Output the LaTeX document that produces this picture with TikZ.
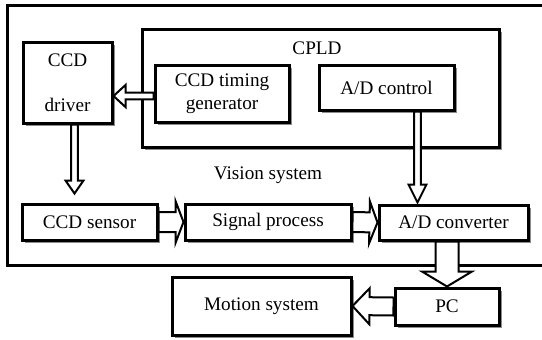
\documentclass[tikz,border=0pt]{standalone}
\usepackage{fontspec}
\setmainfont{Liberation Serif}
\usetikzlibrary{calc, shadows, positioning}

\begin{document}
\begin{tikzpicture}[x=0.5pt, y=-0.5pt,
    font=\fontsize{9.6}{11.5}\selectfont,
    box/.style={draw, line width=1.5pt, fill=white, inner sep=0pt,
      drop shadow={shadow xshift=1.5pt, shadow yshift=-1.5pt, fill=black!45, opacity=1}},
    fat/.style n args={3}{draw, fill=white, line width=1pt, to path={
      let \p1=(\tikztostart), \p2=(\tikztotarget),
          \n1={atan2(\y2-\y1,\x2-\x1)}, \n2={veclen(\x2-\x1,\y2-\y1)} in
      {[shift={(\p1)}, rotate=\n1]
        (0pt,#1pt) -- ({(\n2-#3)*1pt},#1pt) -- ({(\n2-#3)*1pt},#2pt)
        -- ({\n2*1pt},0pt) -- ({(\n2-#3)*1pt},-#2pt) -- ({(\n2-#3)*1pt},-#1pt)
        -- (0pt,-#1pt) -- cycle}}}]
  \useasboundingbox (0,0) rectangle (542,339);

  % vision system frame
  \draw[line width=1.5pt] (7,5) rectangle (560,265);
  \node (vis) at (268,175) {Vision system};

  % CPLD
  \node[box, minimum width=178.5pt, minimum height=59pt] (cpld) at (320.5,88) {};
  \node (cpldlabel) at (317,48) {CPLD};
  \node[box, minimum width=67pt, minimum height=28.5pt, align=center] (gen) at (222,93.5) {CCD timing\\generator};
  \node[box, minimum width=67.5pt, minimum height=22.5pt] (ctl) at (386.5,87.5) {A/D control};

  \node[box, minimum width=44.5pt, minimum height=40.5pt, align=center] (drv) at (67.5,82.5) {CCD\\[11pt]driver};

  % signal chain
  \node[box, minimum width=67.5pt, minimum height=18pt] (sen) at (89.5,222) {CCD sensor};
  \node[box, minimum width=83pt, minimum height=18pt] (sig) at (268,222) {Signal process};
  \node[box, minimum width=74.5pt, minimum height=17.5pt] (adc) at (453.5,222.5) {A/D converter};

  \node[box, minimum width=52pt, minimum height=18.5pt] (pc) at (447,306.5) {PC};
  \node[box, minimum width=89.5pt, minimum height=29pt] (mot) at (261.5,306) {Motion system};

  % arrows
  \draw[fat={1.65}{5.5}{6}] ($(gen.west)+(0,2.5)$) to ($(gen.west -| drv.east)+(0,2.5)$);
  \draw[fat={1.65}{4.5}{6.5}] ($(drv.south)+(7,0)$) to ($(drv.south |- sen.north)+(7,-9)$);
  \draw[fat={5}{10.5}{4}] (sen.east) to (sig.west);
  \draw[fat={5}{10.5}{4}] (sig.east) to (adc.west);
  \draw[fat={1.65}{4.5}{9}] ($(ctl.south)+(31,0)$) to ($(ctl.south |- adc.north)+(31,-1)$);
  \draw[fat={5.75}{12.5}{7.5}] (adc.south -| pc.north) to (pc.north);
  \draw[fat={4.5}{9}{8.5}] (pc.west) to (mot.east);
\end{tikzpicture}
\end{document}
